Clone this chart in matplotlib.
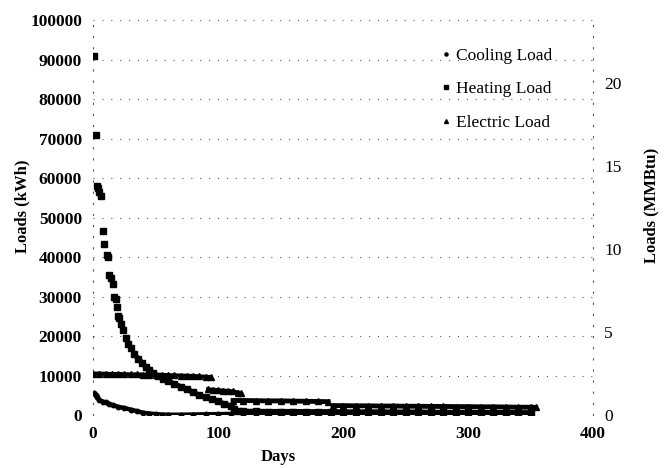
import matplotlib.pyplot as plt

# values (left axis, kWh)
heat_days = [1, 2, 3, 4, 5, 6, 8, 9, 11, 12, 13, 14, 16, 17, 18, 19, 20, 21, 22, 24,
             26, 28, 30, 33, 36, 39, 42, 45, 48, 52, 56, 60, 65, 70, 75, 80, 85, 90,
             95, 100, 105, 110, 113, 116, 120, 130, 140, 150, 160, 170, 180, 190,
             200, 210, 220, 230, 240, 250, 260, 270, 280, 290, 300, 310, 320, 330,
             340, 350]
heat_load = [91000, 71000, 58000, 57500, 56500, 55500, 46700, 43400, 40500, 40000,
             35500, 34800, 33300, 30000, 29500, 27300, 25000, 24700, 23000, 21500,
             19500, 18000, 17000, 15500, 14300, 13300, 12300, 11500, 10600, 9800,
             9200, 8600, 7900, 7200, 6500, 5800, 5000, 4500, 4000, 3500, 2800, 2300,
             1600, 1000, 950, 950, 900, 900, 900, 850, 850, 850, 800, 800, 800, 800,
             750, 750, 750, 700, 700, 700, 700, 650, 650, 650, 600, 600]

elec_days = [0, 5, 10, 15, 20, 25, 30, 35, 40, 45, 50, 55, 60, 65, 70, 75, 80, 85, 90,
             94, 92, 96, 100, 104, 108, 112, 116, 118, 112, 120, 130, 140, 150, 160,
             170, 180, 188, 192, 200, 210, 220, 230, 240, 250, 260, 270, 280, 290,
             300, 310, 320, 330, 340, 350, 354]
elec_load = [10500, 10500, 10450, 10400, 10400, 10350, 10300, 10300, 10250, 10200,
             10200, 10150, 10100, 10050, 10000, 9950, 9900, 9800, 9700, 9600,
             6500, 6400, 6300, 6200, 6100, 6000, 5700, 5500, 3700, 3700, 3650, 3600,
             3600, 3550, 3500, 3450, 3400, 2400, 2400, 2350, 2350, 2300, 2300, 2250,
             2250, 2200, 2200, 2150, 2150, 2100, 2100, 2050, 2000, 2000, 1950]

cool_days = [1, 2, 3, 5, 8, 10, 13, 16, 20, 25, 30, 35, 40, 45, 50, 55, 60, 70, 80, 90,
             100, 110, 120, 130, 140, 150, 160, 170, 180, 190, 200, 210, 220, 230,
             240, 250, 260, 270, 280, 290, 300, 310, 320, 330, 340, 350]
cool_load = [5500, 5000, 4500, 3800, 3400, 3200, 2800, 2500, 2100, 1800, 1400, 1000,
             600, 400, 250, 150, 100, 100, 150, 200, 250, 300, 350, 400, 450, 500,
             550, 600, 600, 550, 500, 450, 400, 350, 300, 250, 250, 200, 200, 200,
             150, 150, 150, 150, 100, 100]

y_ticks = list(range(0, 100001, 10000))
x_ticks = [0, 100, 200, 300, 400]
right_ticks = [0, 5, 10, 15, 20]
kwh_per_mmbtu = 4200

plt.rcParams['font.family'] = 'Liberation Serif'

fig = plt.figure(figsize=(6.65, 4.68), dpi=100)
ax = fig.add_axes([0.14, 0.113, 0.752, 0.844])

ax.plot(elec_days, elec_load, linestyle='none', marker='^', ms=4,
        color='black', label='Electric Load', zorder=3)
ax.plot(cool_days, cool_load, linestyle='none', marker='o', ms=3.2,
        color='black', label='Cooling Load', zorder=3)
ax.plot(heat_days, heat_load, linestyle='none', marker='s', ms=4.2,
        color='black', label='Heating Load', zorder=3)
# daily points form solid bands in the scan
ax.plot(elec_days[:20], elec_load[:20], color='black', lw=3, zorder=2)
ax.plot(elec_days[20:28], elec_load[20:28], color='black', lw=3, zorder=2)
ax.plot(elec_days[28:37], elec_load[28:37], color='black', lw=3.5, zorder=2)
ax.plot(elec_days[37:], elec_load[37:], color='black', lw=3.5, zorder=2)
ax.plot(cool_days, cool_load, color='black', lw=3.2, zorder=2)
ax.plot(heat_days[24:], heat_load[24:], color='black', lw=3.8, zorder=2)

ax.set_xlim(0, 400)
ax.set_ylim(0, 100000)
ax.set_xticks(x_ticks)
ax.set_yticks(y_ticks)
ax.tick_params(length=0, labelsize=12.5, pad=8)
for lab in ax.get_xticklabels() + ax.get_yticklabels():
    lab.set_fontweight('bold')

ax.grid(axis='y', color='#555555', linestyle=(0, (1, 7)), lw=0.8)
for side in ['top', 'bottom']:
    ax.spines[side].set_visible(False)
for side in ['left', 'right']:
    ax.spines[side].set_linestyle((0, (1, 9)))
    ax.spines[side].set_color('#555555')
    ax.spines[side].set_linewidth(0.8)

ax.set_xlabel('Days', fontsize=12, fontweight='bold')
ax.xaxis.set_label_coords(0.37, -0.085)
ax.set_ylabel('Loads (kWh)', fontsize=12, fontweight='bold')
ax.yaxis.set_label_coords(-0.125, 0.53)

ax2 = ax.twinx()
ax2.set_ylim(0, 100000 / kwh_per_mmbtu)
ax2.set_yticks(right_ticks)
ax2.tick_params(length=0, labelsize=12.5, pad=8)
for side in ax2.spines:
    ax2.spines[side].set_visible(False)
ax2.set_ylabel('Loads (MMBtu)', fontsize=12, fontweight='bold')
ax2.yaxis.set_label_coords(1.1, 0.53)

handles, labels = ax.get_legend_handles_labels()
order = [1, 2, 0]
ax.legend([handles[i] for i in order], [labels[i] for i in order],
          loc='upper right', bbox_to_anchor=(0.95, 0.97), frameon=False,
          fontsize=12.5, handlelength=0.6, handletextpad=0.3, labelspacing=1.0,
          markerscale=0.7)

fig.savefig('out.png', dpi=100)
